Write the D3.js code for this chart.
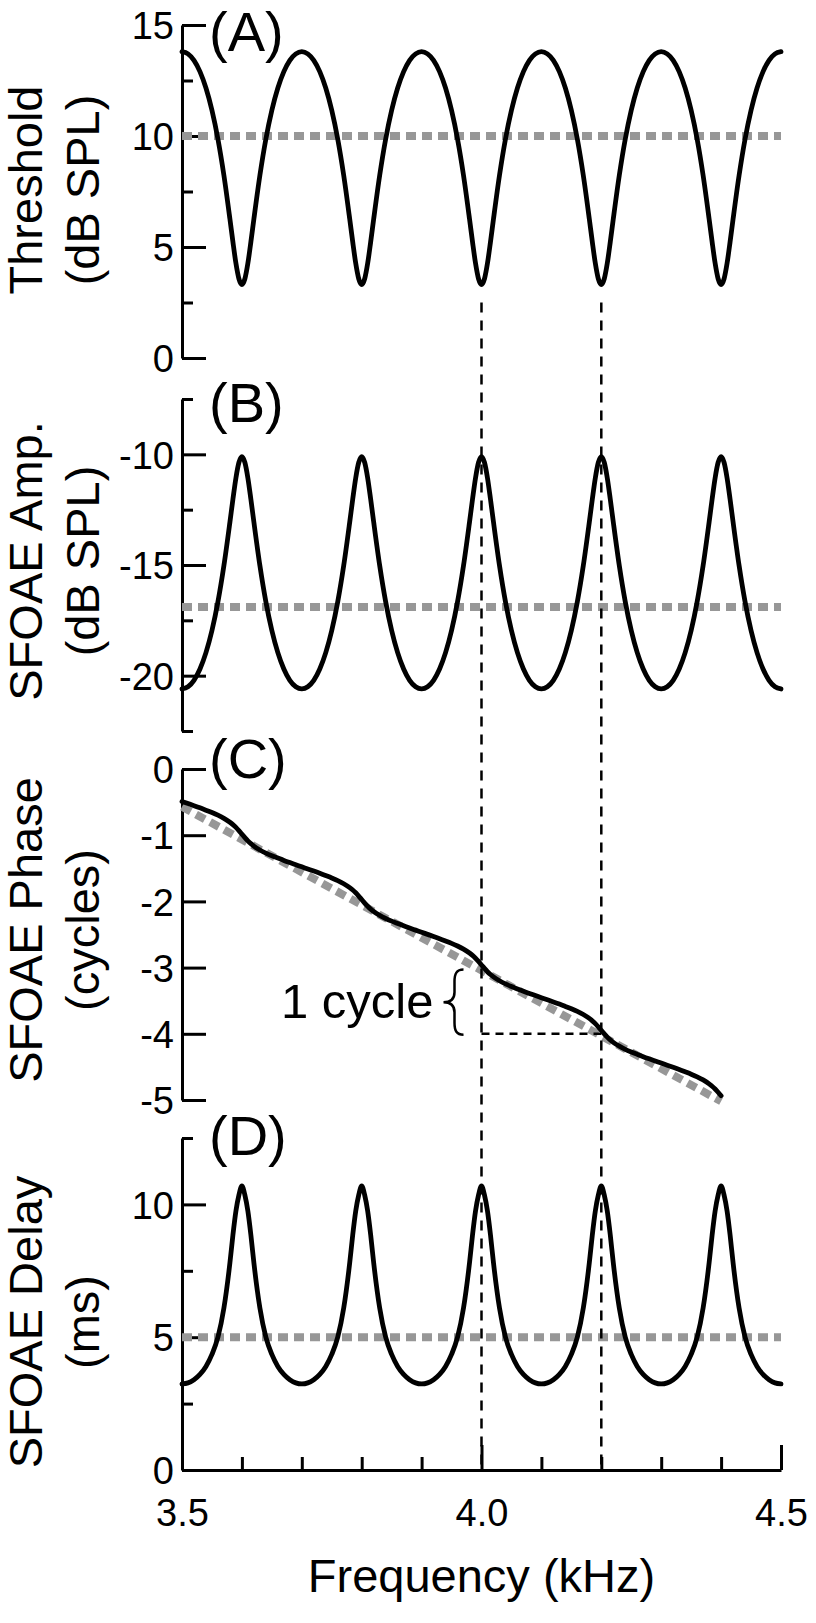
<!DOCTYPE html>
<html>
<head>
<meta charset="utf-8">
<script src="https://cdn.jsdelivr.net/npm/d3@7"></script>
<style>
  body { margin: 0; background: #ffffff; }
  svg { display: block; }
  text { font-family: "Liberation Sans", Arial, Helvetica, sans-serif; fill: #000; }
</style>
</head>
<body>
<svg id="chart" width="816" height="1623"></svg>
<script>
// ---------------- data ----------------
const freqs = [
  3.50,3.51,3.52,3.53,3.54,3.55,3.56,3.57,3.58,3.585,3.59,3.595,3.60,3.605,3.61,3.615,3.62,3.63,3.64,3.65,3.66,3.67,3.68,3.69,
  3.70,3.71,3.72,3.73,3.74,3.75,3.76,3.77,3.78,3.785,3.79,3.795,3.80,3.805,3.81,3.815,3.82,3.83,3.84,3.85,3.86,3.87,3.88,3.89,
  3.90,3.91,3.92,3.93,3.94,3.95,3.96,3.97,3.98,3.985,3.99,3.995,4.00,4.005,4.01,4.015,4.02,4.03,4.04,4.05,4.06,4.07,4.08,4.09,
  4.10,4.11,4.12,4.13,4.14,4.15,4.16,4.17,4.18,4.185,4.19,4.195,4.20,4.205,4.21,4.215,4.22,4.23,4.24,4.25,4.26,4.27,4.28,4.29,
  4.30,4.31,4.32,4.33,4.34,4.35,4.36,4.37,4.38,4.385,4.39,4.395,4.40,4.405,4.41,4.415,4.42,4.43,4.44,4.45,4.46,4.47,4.48,4.49,
  4.50
];

// (A) Threshold, dB SPL
const threshold = [
  13.80,13.70,13.41,12.90,12.16,11.16,9.86,8.22,6.26,5.23,4.27,3.57,3.31,3.57,4.27,5.23,6.26,8.22,9.86,11.16,12.16,12.90,13.41,13.70,
  13.80,13.70,13.41,12.90,12.16,11.16,9.86,8.22,6.26,5.23,4.27,3.57,3.31,3.57,4.27,5.23,6.26,8.22,9.86,11.16,12.16,12.90,13.41,13.70,
  13.80,13.70,13.41,12.90,12.16,11.16,9.86,8.22,6.26,5.23,4.27,3.57,3.31,3.57,4.27,5.23,6.26,8.22,9.86,11.16,12.16,12.90,13.41,13.70,
  13.80,13.70,13.41,12.90,12.16,11.16,9.86,8.22,6.26,5.23,4.27,3.57,3.31,3.57,4.27,5.23,6.26,8.22,9.86,11.16,12.16,12.90,13.41,13.70,
  13.80,13.70,13.41,12.90,12.16,11.16,9.86,8.22,6.26,5.23,4.27,3.57,3.31,3.57,4.27,5.23,6.26,8.22,9.86,11.16,12.16,12.90,13.41,13.70,
  13.80
];
const thresholdMean = 10;

// (B) SFOAE amplitude, dB SPL
const sfoaeAmp = [
  -20.60,-20.50,-20.21,-19.70,-18.96,-17.96,-16.66,-15.02,-13.06,-12.03,-11.07,-10.37,-10.11,-10.37,-11.07,-12.03,-13.06,-15.02,-16.66,-17.96,-18.96,-19.70,-20.21,-20.50,
  -20.60,-20.50,-20.21,-19.70,-18.96,-17.96,-16.66,-15.02,-13.06,-12.03,-11.07,-10.37,-10.11,-10.37,-11.07,-12.03,-13.06,-15.02,-16.66,-17.96,-18.96,-19.70,-20.21,-20.50,
  -20.60,-20.50,-20.21,-19.70,-18.96,-17.96,-16.66,-15.02,-13.06,-12.03,-11.07,-10.37,-10.11,-10.37,-11.07,-12.03,-13.06,-15.02,-16.66,-17.96,-18.96,-19.70,-20.21,-20.50,
  -20.60,-20.50,-20.21,-19.70,-18.96,-17.96,-16.66,-15.02,-13.06,-12.03,-11.07,-10.37,-10.11,-10.37,-11.07,-12.03,-13.06,-15.02,-16.66,-17.96,-18.96,-19.70,-20.21,-20.50,
  -20.60,-20.50,-20.21,-19.70,-18.96,-17.96,-16.66,-15.02,-13.06,-12.03,-11.07,-10.37,-10.11,-10.37,-11.07,-12.03,-13.06,-15.02,-16.66,-17.96,-18.96,-19.70,-20.21,-20.50,
  -20.60
];
const ampMean = -16.9;

// (C) SFOAE phase, cycles (curve ends at 4.40 kHz)
const sfoaePhase = [
  -0.490,-0.522,-0.554,-0.587,-0.622,-0.658,-0.698,-0.745,-0.804,-0.840,-0.882,-0.931,-0.984,-1.037,-1.086,-1.128,-1.165,-1.223,-1.270,-1.310,-1.346,-1.381,-1.414,-1.446,
  -1.478,-1.510,-1.542,-1.575,-1.610,-1.646,-1.686,-1.733,-1.792,-1.828,-1.870,-1.919,-1.972,-2.025,-2.074,-2.116,-2.153,-2.211,-2.258,-2.298,-2.334,-2.369,-2.402,-2.434,
  -2.466,-2.498,-2.530,-2.563,-2.598,-2.634,-2.674,-2.721,-2.780,-2.816,-2.858,-2.907,-2.960,-3.013,-3.062,-3.104,-3.141,-3.199,-3.246,-3.286,-3.322,-3.357,-3.390,-3.422,
  -3.454,-3.486,-3.518,-3.551,-3.586,-3.622,-3.662,-3.709,-3.768,-3.804,-3.846,-3.895,-3.948,-4.001,-4.050,-4.092,-4.129,-4.187,-4.234,-4.274,-4.310,-4.345,-4.378,-4.410,
  -4.442,-4.474,-4.506,-4.539,-4.574,-4.610,-4.650,-4.697,-4.756,-4.792,-4.834,-4.883,-4.936
];
const phaseTrendFreqs = [3.5, 4.4];
const phaseTrend = [-0.57, -5.02];

// (D) SFOAE delay, ms
const sfoaeDelay = [
  3.24,3.28,3.40,3.60,3.90,4.35,5.00,6.10,7.80,8.85,9.75,10.35,10.70,10.35,9.75,8.85,7.80,6.10,5.00,4.35,3.90,3.60,3.40,3.28,
  3.24,3.28,3.40,3.60,3.90,4.35,5.00,6.10,7.80,8.85,9.75,10.35,10.70,10.35,9.75,8.85,7.80,6.10,5.00,4.35,3.90,3.60,3.40,3.28,
  3.24,3.28,3.40,3.60,3.90,4.35,5.00,6.10,7.80,8.85,9.75,10.35,10.70,10.35,9.75,8.85,7.80,6.10,5.00,4.35,3.90,3.60,3.40,3.28,
  3.24,3.28,3.40,3.60,3.90,4.35,5.00,6.10,7.80,8.85,9.75,10.35,10.70,10.35,9.75,8.85,7.80,6.10,5.00,4.35,3.90,3.60,3.40,3.28,
  3.24,3.28,3.40,3.60,3.90,4.35,5.00,6.10,7.80,8.85,9.75,10.35,10.70,10.35,9.75,8.85,7.80,6.10,5.00,4.35,3.90,3.60,3.40,3.28,
  3.24
];
const delayMean = 5;

// annotations
const markerFreqs = [4.0, 4.2];
const cycleSpan = [-3, -4];
const cycleLabel = "1 cycle";

// tick values / labels
const xMajorTicks = [3.5, 4.0, 4.5];
const xMinorTicks = [3.6, 3.7, 3.8, 3.9, 4.1, 4.2, 4.3, 4.4];
const xTitle = "Frequency (kHz)";
const panelLabels = ["(A)", "(B)", "(C)", "(D)"];
const yTitles = [["Threshold", "(dB SPL)"], ["SFOAE Amp.", "(dB SPL)"], ["SFOAE Phase", "(cycles)"], ["SFOAE Delay", "(ms)"]];
const yDomains = [[0, 15], [-22.5, -7.5], [-5, 0], [0, 12.5]];
const yMajorTicks = [[0, 5, 10, 15], [-20, -15, -10], [0, -1, -2, -3, -4, -5], [0, 5, 10]];
const yMinorTicks = [[2.5, 7.5, 12.5], [-22.5, -17.5, -12.5, -7.5], [], [2.5, 7.5, 12.5]];

// ---------------- layout ----------------
const svg = d3.select("#chart");
const X0 = 182, X1 = 781;
const x = d3.scaleLinear().domain([3.5, 4.5]).range([X0, X1]);

const layout = [
  { top: 25,   bottom: 358,  labelY: 51,   titleY: 190 },
  { top: 399,  bottom: 731,  labelY: 422,  titleY: 561 },
  { top: 769,  bottom: 1100, labelY: 778,  titleY: 930 },
  { top: 1138, bottom: 1470, labelY: 1155, titleY: 1322 }
];

const ys = layout.map((L, i) => d3.scaleLinear().domain(yDomains[i]).range([L.bottom, L.top]));

const GREY = "#979797";
const tickFont = 38;

function styleAxis(g) {
  g.selectAll(".domain").attr("stroke", "#000").attr("stroke-width", 3);
  g.selectAll(".tick line").attr("stroke", "#000").attr("stroke-width", 3);
  g.selectAll(".tick text").attr("font-size", tickFont).attr("font-family", "Liberation Sans, Arial, sans-serif").attr("fill", "#000");
}

const seriesList = [
  freqs.map((f, i) => ({ f, v: threshold[i] })),
  freqs.map((f, i) => ({ f, v: sfoaeAmp[i] })),
  sfoaePhase.map((v, i) => ({ f: freqs[i], v })),
  freqs.map((f, i) => ({ f, v: sfoaeDelay[i] }))
];
const meanLines = [
  [{ f: 3.5, v: thresholdMean }, { f: 4.5, v: thresholdMean }],
  [{ f: 3.5, v: ampMean }, { f: 4.5, v: ampMean }],
  phaseTrendFreqs.map((f, i) => ({ f, v: phaseTrend[i] })),
  [{ f: 3.5, v: delayMean }, { f: 4.5, v: delayMean }]
];

layout.forEach((L, i) => {
  const y = ys[i];
  const g = svg.append("g");

  // major y ticks + axis line
  const ax = d3.axisLeft(y).tickValues(yMajorTicks[i]).tickSize(-24).tickSizeOuter(0)
    .tickPadding(8).tickFormat(d => String(d));
  const ga = g.append("g").attr("transform", `translate(${X0},0)`).call(ax);
  styleAxis(ga);
  ga.selectAll(".tick text").attr("dy", "0.36em");

  // minor ticks
  if (yMinorTicks[i].length) {
    const axm = d3.axisLeft(y).tickValues(yMinorTicks[i]).tickSize(-11).tickFormat("");
    const gm = g.append("g").attr("transform", `translate(${X0},0)`).call(axm);
    gm.select(".domain").remove();
    styleAxis(gm);
  }

  // grey reference line
  const line = d3.line().x(d => x(d.f)).y(d => y(d.v));
  g.append("path").datum(meanLines[i]).attr("d", line)
    .attr("fill", "none").attr("stroke", GREY).attr("stroke-width", 8)
    .attr("stroke-dasharray", "10 6");

  // data curve
  const curve = d3.line().x(d => x(d.f)).y(d => y(d.v)).curve(d3.curveMonotoneX);
  g.append("path").datum(seriesList[i]).attr("d", curve)
    .attr("fill", "none").attr("stroke", "#000").attr("stroke-width", 4.8)
    .attr("stroke-linejoin", "round").attr("stroke-linecap", "round");

  // panel label
  svg.append("text").attr("x", 209).attr("y", L.labelY)
    .attr("font-size", 56).text(panelLabels[i]);

  // y title (two lines, rotated)
  const t = svg.append("text").attr("text-anchor", "middle").attr("font-size", 47)
    .attr("transform", `translate(0,${L.titleY}) rotate(-90)`);
  t.append("tspan").attr("x", 0).attr("y", 42).text(yTitles[i][0]);
  t.append("tspan").attr("x", 0).attr("y", 99).text(yTitles[i][1]);
});

// x axis at bottom of panel D
const yD = ys[3];
const xa = d3.axisBottom(x).tickValues(xMajorTicks).tickSize(-25).tickSizeOuter(0)
  .tickPadding(29).tickFormat(d3.format(".1f"));
const gx = svg.append("g").attr("transform", `translate(0,${yD(0)})`).call(xa);
styleAxis(gx);
const xam = d3.axisBottom(x).tickValues(xMinorTicks).tickSize(-13).tickFormat("");
const gxm = svg.append("g").attr("transform", `translate(0,${yD(0)})`).call(xam);
gxm.select(".domain").remove();
styleAxis(gxm);

svg.append("text").attr("x", x(4.0)).attr("y", 1592).attr("text-anchor", "middle")
  .attr("font-size", 47).text(xTitle);

// vertical dashed marker lines through all panels
const yA = ys[0], yC = ys[2];
markerFreqs.forEach(f => {
  svg.append("line").attr("x1", x(f)).attr("x2", x(f))
    .attr("y1", yA(2.5)).attr("y2", yD(0))
    .attr("stroke", "#000").attr("stroke-width", 2.5).attr("stroke-dasharray", "10 8");
});

// horizontal "1 cycle" dashed line
svg.append("line").attr("x1", x(markerFreqs[0])).attr("x2", x(markerFreqs[1]))
  .attr("y1", yC(cycleSpan[1])).attr("y2", yC(cycleSpan[1]))
  .attr("stroke", "#000").attr("stroke-width", 2.5).attr("stroke-dasharray", "8 6");

// curly brace
const xr = x(markerFreqs[0]) - 18, sp = xr - 9, tip = xr - 20;
const yt = yC(cycleSpan[0]) + 2, yb = yC(cycleSpan[1]) + 1, ym = (yt + yb) / 2;
const bp = d3.path();
bp.moveTo(xr, yt);
bp.bezierCurveTo(xr - 7, yt, sp, yt + 4, sp, yt + 12);
bp.lineTo(sp, ym - 10);
bp.bezierCurveTo(sp, ym - 3, xr - 13, ym, tip, ym);
bp.bezierCurveTo(xr - 13, ym, sp, ym + 3, sp, ym + 10);
bp.lineTo(sp, yb - 12);
bp.bezierCurveTo(sp, yb - 4, xr - 7, yb, xr, yb);
svg.append("path").attr("d", bp.toString()).attr("fill", "none")
  .attr("stroke", "#000").attr("stroke-width", 2.5);

svg.append("text").attr("x", tip - 10).attr("y", ym + 16).attr("text-anchor", "end")
  .attr("font-size", 49).text(cycleLabel);
</script>
</body>
</html>
